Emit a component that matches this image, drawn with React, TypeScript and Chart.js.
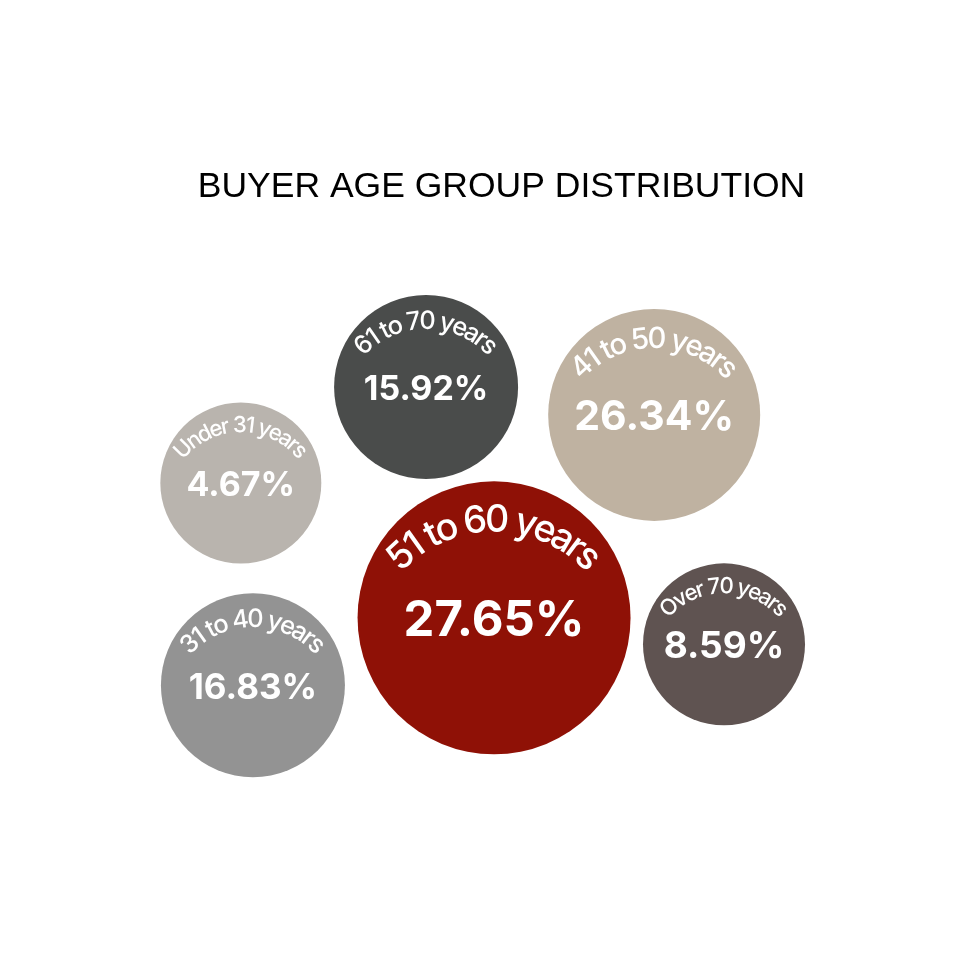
import React, { useEffect, useRef } from "react";
import { Chart, registerables } from "chart.js";

Chart.register(...registerables);

// Age groups and their share of buyers
const categories = [
  "Under 31 years",
  "61 to 70 years",
  "41 to 50 years",
  "51 to 60 years",
  "Over 70 years",
  "31 to 40 years",
];
const shares = [4.67, 15.92, 26.34, 27.65, 8.59, 16.83];

// Bubble placement on a 0–100 grid, and bubble sizes
const gridX = [22.0, 41.9, 66.4, 49.2, 73.9, 23.3];
const gridY = [67.5, 80.9, 77.0, 48.7, 45.0, 39.3];
const bubbleSize = [80.5, 92, 106, 136.5, 81, 92];

const bubbleColors = ["#b9b4ae", "#4a4c4b", "#bfb2a1", "#8f1106", "#5f5351", "#939393"];
const valueFontSizes = [34, 34, 41, 49, 37, 35];

const LABEL_FONT = "Inter, 'Noto Sans', sans-serif";

// Draws the curved group name and the percentage inside each bubble
const bubbleText = {
  id: "bubbleText",
  afterDatasetsDraw(chart: any) {
    const ctx: CanvasRenderingContext2D = chart.ctx;
    const meta = chart.getDatasetMeta(0);
    meta.data.forEach((el: any, i: number) => {
      const cx = el.x;
      const cy = el.y;
      const r = el.options.radius;
      ctx.save();
      ctx.fillStyle = "#ffffff";

      // percentage
      ctx.font = `700 ${valueFontSizes[i]}px ${LABEL_FONT}`;
      ctx.textAlign = "center";
      ctx.textBaseline = "middle";
      ctx.fillText(`${shares[i].toFixed(2)}%`, cx, cy + 3);

      // curved name along an arc above the value
      const size = r * 0.275;
      const tracking = -0.05 * size;
      ctx.font = `500 ${size.toFixed(1)}px ${LABEL_FONT}`;
      const chars = Array.from(categories[i]);
      const R = r;
      const acx = cx;
      const acy = cy + r * 0.285;
      const widths = chars.map((ch) => ctx.measureText(ch).width);
      const total = widths.reduce((a, b) => a + b, 0) + tracking * (chars.length - 1);
      const span = total / R;
      let cum = 0;
      chars.forEach((ch, k) => {
        const a = -Math.PI / 2 - span / 2 + (cum + widths[k] / 2) / R;
        cum += widths[k] + tracking;
        ctx.save();
        ctx.translate(acx + R * Math.cos(a), acy + R * Math.sin(a));
        ctx.rotate(a + Math.PI / 2);
        ctx.fillText(ch, 0, 0);
        ctx.restore();
      });
      ctx.restore();
    });
  },
};

export default function App() {
  const canvasRef = useRef<HTMLCanvasElement | null>(null);

  useEffect(() => {
    if (!canvasRef.current) return;
    const chart = new Chart(canvasRef.current, {
      type: "bubble",
      data: {
        labels: categories,
        datasets: [
          {
            data: categories.map((_, i) => ({ x: gridX[i], y: gridY[i], r: bubbleSize[i] })),
            backgroundColor: bubbleColors,
            borderWidth: 0,
            hoverBorderWidth: 0,
            clip: false as any,
          },
        ],
      },
      options: {
        responsive: false,
        animation: false,
        devicePixelRatio: 1,
        events: [],
        layout: { autoPadding: false, padding: { left: 36, right: 0, top: 0, bottom: 0 } },
        scales: {
          x: { display: false, min: 0, max: 100 },
          y: { display: false, min: 0, max: 100 },
        },
        plugins: {
          legend: { display: false },
          tooltip: { enabled: false },
          title: {
            display: true,
            text: "BUYER AGE GROUP DISTRIBUTION",
            color: "#000000",
            font: {
              family: "'Liberation Sans', Arial, sans-serif",
              size: 35.5,
              weight: "normal",
              lineHeight: 1.2,
            },
            padding: { top: 165.5, bottom: 41.9 },
          },
        },
      },
      plugins: [bubbleText],
    });
    return () => chart.destroy();
  }, []);

  return (
    <div style={{ position: "fixed", left: 0, top: 0, width: 967, height: 967, background: "#ffffff" }}>
      <canvas ref={canvasRef} width={967} height={967} />
    </div>
  );
}
